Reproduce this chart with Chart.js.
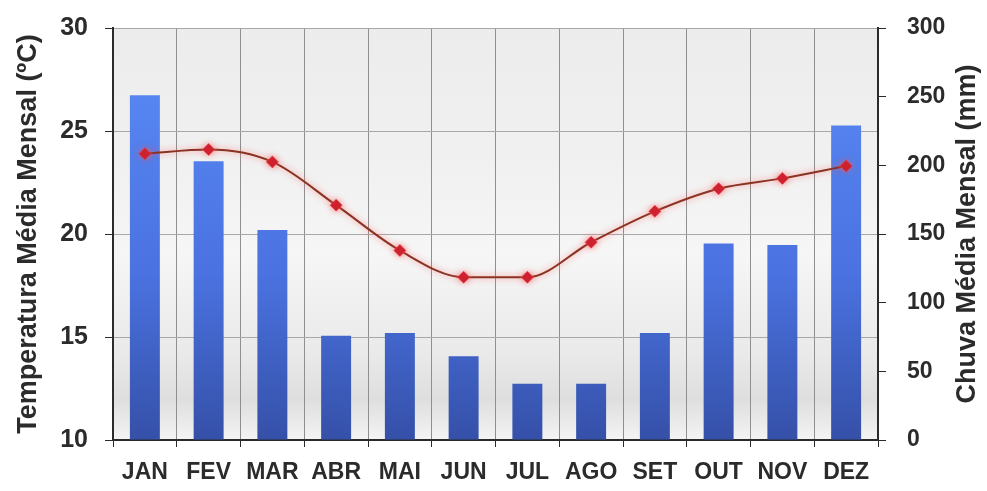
<!DOCTYPE html>
<html>
<head>
<meta charset="utf-8">
<script src="https://cdn.jsdelivr.net/npm/chart.js@4"></script>
<style>
  html, body { margin: 0; padding: 0; background: #fff; }
  #wrap { width: 987px; height: 491px; }
</style>
</head>
<body>
<div id="wrap"><canvas id="chart" width="987" height="491"></canvas></div>
<script>
// Climograma: chuva (barras) e temperatura (linha) médias mensais

const MONTHS     = ['JAN', 'FEV', 'MAR', 'ABR', 'MAI', 'JUN', 'JUL', 'AGO', 'SET', 'OUT', 'NOV', 'DEZ'];
const RAIN_MM    = [251, 203, 153, 76, 78, 61, 41, 41, 78, 143, 142, 229];
const TEMP_C     = [23.9, 24.1, 23.5, 21.4, 19.2, 17.9, 17.9, 19.6, 21.1, 22.2, 22.7, 23.3];
const TEMP_TICKS = [10, 15, 20, 25, 30];
const RAIN_TICKS = [0, 50, 100, 150, 200, 250, 300];
const RAIN_TITLE = 'Chuva Média Mensal (mm)';

const FONT = "'Liberation Sans', Arial, sans-serif";
const INK  = '#2b2b2b';

// ── Plot background (light grey, slightly cloudy) ───────────────────────────
const plotBackground = {
  id: 'plotBackground',
  beforeDatasetsDraw(chart) {
    const { ctx, chartArea: a } = chart;
    const g = ctx.createLinearGradient(0, a.top, 0, a.bottom);
    g.addColorStop(0.00, '#ececec');
    g.addColorStop(0.35, '#f1f1f1');
    g.addColorStop(0.55, '#f6f6f6');
    g.addColorStop(0.80, '#e9e9e9');
    g.addColorStop(0.90, '#dedede');
    g.addColorStop(1.00, '#f4f4f4');
    ctx.save();
    ctx.globalCompositeOperation = 'destination-over';
    ctx.fillStyle = g;
    ctx.fillRect(a.left, a.top, a.right - a.left, a.bottom - a.top);
    ctx.restore();
  }
};

// soft pink glow on the temperature line
const lineGlow = {
  id: 'lineGlow',
  beforeDatasetDraw(chart, args) {
    if (args.meta.type !== 'line') return;
    chart.ctx.save();
    chart.ctx.shadowColor = 'rgba(255, 90, 90, 0.7)';
    chart.ctx.shadowBlur = 6;
  },
  afterDatasetDraw(chart, args) {
    if (args.meta.type !== 'line') return;
    chart.ctx.restore();
  }
};

// right-hand title reads bottom-to-top, like the left one
const rightTitle = {
  id: 'rightTitle',
  afterDraw(chart) {
    const { ctx, chartArea: a } = chart;
    ctx.save();
    ctx.translate(968, (a.top + a.bottom) / 2);
    ctx.rotate(-Math.PI / 2);
    ctx.fillStyle = INK;
    ctx.font = `bold 27px ${FONT}`;
    ctx.textAlign = 'center';
    ctx.textBaseline = 'middle';
    ctx.fillText(RAIN_TITLE, 0, 0);
    ctx.restore();
  }
};

function barGradient(context) {
  const a = context.chart.chartArea;
  if (!a) return '#4a78e8';
  const g = context.chart.ctx.createLinearGradient(0, a.top, 0, a.bottom);
  g.addColorStop(0, '#5b8cf7');
  g.addColorStop(0.6, '#4a72e0');
  g.addColorStop(1, '#3550a8');
  return g;
}

// fixed axis sizes so the plot box lands where the original has it
function fitY(width) {
  return s => { s.width = width; s.paddingTop = 0; s.paddingBottom = 0; };
}

new Chart(document.getElementById('chart'), {
  data: {
    labels: MONTHS,
    datasets: [
      {
        type: 'line',
        label: 'Temperatura',
        data: TEMP_C,
        yAxisID: 'yT',
        order: 0,
        borderColor: '#8a3322',
        borderWidth: 2,
        cubicInterpolationMode: 'monotone',
        pointStyle: 'rectRot',
        pointRadius: 6,
        pointBackgroundColor: '#cc1f2d',
        pointBorderColor: 'rgba(230, 60, 70, 0.6)',
        pointBorderWidth: 1
      },
      {
        type: 'bar',
        label: 'Chuva',
        data: RAIN_MM,
        yAxisID: 'yR',
        order: 1,
        backgroundColor: barGradient,
        categoryPercentage: 1,
        barPercentage: 0.47
      }
    ]
  },
  options: {
    responsive: false,
    animation: false,
    layout: { padding: { top: 28, left: 0, right: 0, bottom: 0 } },
    plugins: {
      legend: { display: false },
      tooltip: { enabled: false }
    },
    scales: {
      x: {
        grid: { color: '#8f8f8f', lineWidth: 1, tickColor: INK, tickLength: 7, offset: true },
        border: { color: INK, width: 2 },
        ticks: { color: INK, padding: 12, font: { family: FONT, size: 23, weight: 'bold' } },
        afterFit: s => { s.height = 51; s.paddingLeft = 0; s.paddingRight = 0; }
      },
      yT: {
        position: 'left',
        min: 10, max: 30,
        afterBuildTicks: s => { s.ticks = TEMP_TICKS.map(v => ({ value: v })); },
        grid: { color: '#a8a8a8', lineWidth: 1, tickColor: INK, tickLength: 8 },
        border: { color: INK, width: 2 },
        ticks: { color: INK, padding: 17, font: { family: FONT, size: 25, weight: 'bold' } },
        title: {
          display: true,
          text: 'Temperatura Média Mensal (ºC)',
          color: INK,
          padding: { top: 12, bottom: 0 },
          font: { family: FONT, size: 27, weight: 'bold' }
        },
        afterFit: fitY(113)
      },
      yR: {
        position: 'right',
        min: 0, max: 300,
        afterBuildTicks: s => { s.ticks = RAIN_TICKS.map(v => ({ value: v })); },
        grid: { drawOnChartArea: false, tickColor: INK, tickLength: 8 },
        border: { color: INK, width: 2 },
        ticks: { color: INK, padding: 21, font: { family: FONT, size: 23, weight: 'bold' } },
        afterFit: fitY(109)
      }
    }
  },
  plugins: [plotBackground, lineGlow, rightTitle]
});
</script>
</body>
</html>
